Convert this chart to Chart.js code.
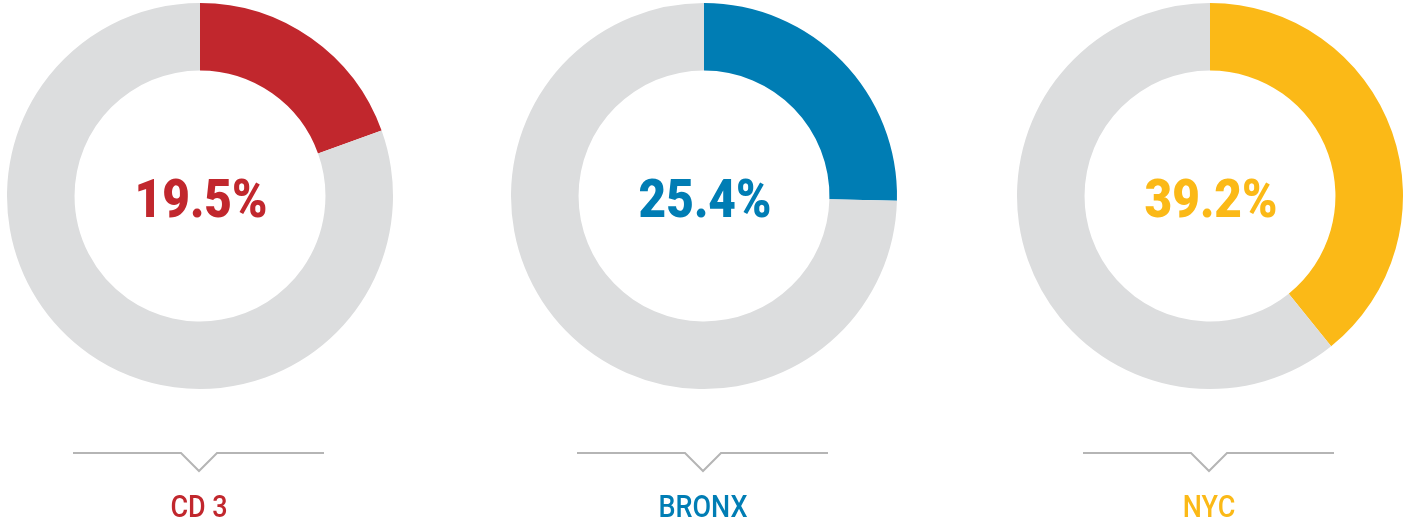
<!DOCTYPE html>
<html>
<head>
<meta charset="utf-8">
<script src="https://cdn.jsdelivr.net/npm/chart.js"></script>
<style>
  body { margin: 0; background: #fff; width: 1410px; height: 524px; position: relative; overflow: hidden; }
  .box { position: absolute; top: 0; width: 400px; height: 524px; }
</style>
</head>
<body>
<div class="box" style="left:0px"><canvas id="c0" width="400" height="524"></canvas></div>
<div class="box" style="left:504px"><canvas id="c1" width="400" height="524"></canvas></div>
<div class="box" style="left:1010px"><canvas id="c2" width="400" height="524"></canvas></div>
<script>
    // share of residents, by area
    const areas = ['CD 3', 'BRONX', 'NYC'];
    const shares = [19.5, 25.4, 39.2];
    const colors = ['#C1272D', '#007DB4', '#FBB917'];
    const restColor = '#DCDDDE';

    // draw text squeezed horizontally (the original uses a condensed face)
    function squeezed(c, txt, x, y, sx) {
        c.save();
        c.translate(x, y);
        c.scale(sx, 1);
        c.fillText(txt, 0, 0);
        c.restore();
    }

    // center number + bottom bracket and label
    const labelPlugin = {
        id: 'labelPlugin',
        afterDraw(chart) {
            const c = chart.ctx;
            const arc = chart.getDatasetMeta(0).data[0];
            const cx = arc.x;
            const i = chart.options.plugins.labelPlugin.index;

            c.save();
            c.fillStyle = colors[i];
            c.textAlign = 'center';
            c.textBaseline = 'alphabetic';
            c.font = '900 53px Roboto, sans-serif';
            squeezed(c, shares[i].toFixed(1) + '%', cx + 1, 217, 0.9);

            // bracket line with a notch
            c.strokeStyle = '#B5B5B5';
            c.lineWidth = 2;
            c.beginPath();
            c.moveTo(cx - 127, 453);
            c.lineTo(cx - 19, 453);
            c.lineTo(cx - 1, 471);
            c.lineTo(cx + 17, 453);
            c.lineTo(cx + 124, 453);
            c.stroke();

            c.font = '500 31px Roboto, sans-serif';
            squeezed(c, areas[i], cx - 1, 517, 0.87);
            c.restore();
        }
    };

    areas.forEach(function (name, i) {
        const ctx = document.getElementById('c' + i).getContext('2d');
        new Chart(ctx, {
            type: 'doughnut',
            data: {
                labels: [name, 'Other'],
                datasets: [{
                    data: [shares[i], 100 - shares[i]],
                    backgroundColor: [colors[i], restColor],
                    borderWidth: 0,
                    hoverOffset: 0
                }]
            },
            options: {
                responsive: false,
                animation: false,
                cutout: '65%',
                layout: { padding: { left: 7, right: 7, top: 3, bottom: 135 } },
                plugins: {
                    legend: { display: false },
                    tooltip: { enabled: false },
                    labelPlugin: { index: i }
                }
            },
            plugins: [labelPlugin]
        });
    });
</script>
</body>
</html>
